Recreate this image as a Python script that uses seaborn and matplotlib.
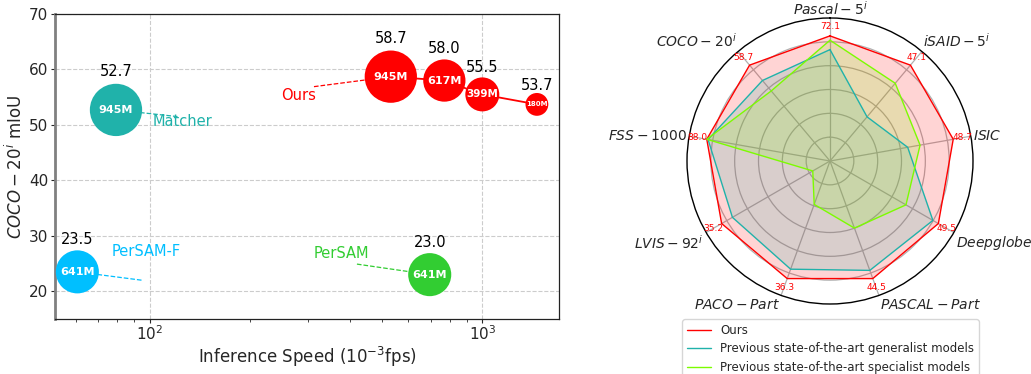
import numpy as np
import pandas as pd
import matplotlib
matplotlib.use("Agg")
import matplotlib.pyplot as plt
from matplotlib.lines import Line2D
import seaborn as sns

# ---------------- data: bubble chart ----------------
models = ["PerSAM-F", "Matcher", "PerSAM", "Ours", "Ours", "Ours", "Ours"]
speed = [60.7, 79.3, 695, 531, 769, 1000, 1459]          # 10^-3 fps
miou = [23.5, 52.7, 23.0, 58.7, 58.0, 55.5, 53.7]        # COCO-20i mIoU
params = [641, 945, 641, 945, 617, 399, 180]             # M
param_labels = ["641M", "945M", "641M", "945M", "617M", "399M", "180M"]

# ---------------- data: radar chart ----------------
radar_axes = [r"$Pascal-5^i$", r"$iSAID-5^i$", r"$ISIC$", r"$Deepglobe$",
              r"$PASCAL-Part$", r"$PACO-Part$", r"$LVIS-92^i$", r"$FSS-1000$",
              r"$COCO-20^i$"]
ours_vals = [72.1, 47.1, 48.7, 49.5, 44.5, 36.3, 35.2, 88.0, 58.7]
generalist_vals = [64.2, 21.7, 30.7, 47.0, 41.4, 33.4, 31.7, 87.1, 49.3]
specialist_vals = [69.6, 38.2, 35.6, 34.7, 25.4, 13.4, 5.6, 88.0, 42.9]
legend_labels = ["Ours", "Previous state-of-the-art generalist models",
                 "Previous state-of-the-art specialist models"]

# ---------------- style ----------------
sns.set_style("ticks")
plt.rcParams["font.family"] = ["DejaVu Sans"]
plt.rcParams["mathtext.fontset"] = "dejavusans"

colors = {"PerSAM-F": "#00BFFF", "Matcher": "#20B2AA", "PerSAM": "#32CD32", "Ours": "#FF0000"}

fig = plt.figure(figsize=(10.31, 3.74), dpi=100)
ax = fig.add_axes([55 / 1031, 55 / 374, 504 / 1031, 305 / 374])

df = pd.DataFrame({"model": models, "speed": speed, "miou": miou,
                   "params": params, "plabel": param_labels})
size_scale = 1.5
df["s"] = df["params"] * size_scale

# connecting line for Ours
sns.lineplot(data=df[df.model == "Ours"], x="speed", y="miou", color="red",
             lw=1.3, ax=ax, zorder=2, legend=False, sort=True)

sns.scatterplot(data=df, x="speed", y="miou", hue="model", palette=colors,
                s=df["s"].to_numpy(), linewidth=0, alpha=1,
                ax=ax, zorder=3, legend=False)

ax.set_xscale("log")
ax.set_xlim(52, 1700)
ax.set_ylim(15, 70)
ax.set_yticks([20, 30, 40, 50, 60, 70])
ax.grid(True, which="major", ls="--", color="#cccccc", lw=0.8)
ax.set_axisbelow(True)
ax.tick_params(labelsize=11, length=3, pad=2)
ax.tick_params(axis="x", pad=1)
ax.tick_params(which="minor", length=2)
ax.set_xlabel(r"Inference Speed ($10^{-3}$fps)", fontsize=12, labelpad=1)
ax.set_ylabel(r"$COCO-20^i$ mIoU", fontsize=12, labelpad=2)
for sp in ax.spines.values():
    sp.set_linewidth(0.9)
    sp.set_color("#222222")
ax.spines["left"].set_color("#808080")
ax.spines["left"].set_linewidth(2)

inner_fs = {945: 8, 641: 8, 617: 8, 399: 7.5, 180: 5}
for _, row in df.iterrows():
    r_px = 23 * np.sqrt(row.params / 945)
    off_pt = (1.5 * r_px + 4) * 0.72
    ax.annotate(row.plabel, (row.speed, row.miou), ha="center", va="center",
                color="white", fontweight="bold", fontsize=inner_fs[row.params], zorder=5)
    ax.annotate(f"{row.miou:.1f}", (row.speed, row.miou), xytext=(0, off_pt),
                textcoords="offset points", ha="center", va="center", fontsize=10.5,
                color="black", zorder=5)

# name labels with dashed leader lines (layout only)
name_layout = {
    "Ours": dict(text=(281, 55.25), line=(312, 56.9), anchor=(531, 58.7)),
    "Matcher": dict(text=(125.7, 50.6), line=(121.4, 51.5), anchor=(79.3, 52.7)),
    "PerSAM-F": dict(text=(97.9, 27.2), line=(94.6, 22.0), anchor=(60.7, 23.5)),
    "PerSAM": dict(text=(378, 26.8), line=(420, 24.9), anchor=(695, 23.0)),
}
for name, lay in name_layout.items():
    c = colors[name]
    ax.plot([lay["line"][0], lay["anchor"][0]], [lay["line"][1], lay["anchor"][1]],
            ls="--", color=c, lw=0.9, zorder=1)
    ax.text(lay["text"][0], lay["text"][1], name, color=c, fontsize=10.5,
            ha="center", va="center")

# ---------------- radar ----------------
rax = fig.add_axes([(830 - 143) / 1031, (374 - 304) / 374, 286 / 1031, 286 / 374], polar=True)
rax.set_theta_offset(np.pi / 2)
rax.set_theta_direction(-1)
n = len(radar_axes)
angles = np.arange(n) * 2 * np.pi / n
rmax = 1.2
scale = 1.05

def norm(vals):
    return [v / o * scale for v, o in zip(vals, ours_vals)]

series = [(ours_vals, "#FF0000"), (generalist_vals, "#20B2AA"), (specialist_vals, "#7CFC00")]
for vals, c in series:
    r = norm(vals)
    a = np.append(angles, angles[0])
    r = np.append(r, r[0])
    rax.plot(a, r, color=c, lw=1.0, zorder=3)
    rax.fill(a, r, color=c, alpha=0.17, zorder=2, lw=0)

rax.set_ylim(0, rmax)
rax.set_yticks([0.2, 0.4, 0.6, 0.8, 1.0])
rax.set_yticklabels([])
rax.set_xticks(angles)
rax.set_xticklabels([])
rax.grid(True, color="#b0b0b0", lw=0.9)
rax.spines["polar"].set_color("black")
rax.spines["polar"].set_linewidth(1.0)
rax.set_facecolor("white")

for ang, v in zip(angles, ours_vals):
    rax.text(ang, scale + 0.08, f"{v:.1f}", color="red", fontsize=6.5,
             ha="center", va="center", zorder=4)

for ang, lab in zip(angles, radar_axes):
    phi = np.pi / 2 - ang
    cx, sy = np.cos(phi), np.sin(phi)
    ha = "left" if cx > 0.1 else ("right" if cx < -0.1 else "center")
    va = "bottom" if sy > 0.3 else ("top" if sy < -0.3 else "center")
    pad = 0.005 if sy > 0.95 else 0.02
    rax.text(ang, rmax + pad, lab, fontsize=10, ha=ha, va=va)

handles = [Line2D([0], [0], color=c, lw=1.0) for _, c in series]
fig.legend(handles, legend_labels, loc="upper center", bbox_to_anchor=(830.5 / 1031, 0.146),
           fontsize=8.5, frameon=True, labelspacing=0.45, edgecolor="#cccccc",
           fancybox=True, borderaxespad=0)

fig.savefig("out.png", dpi=100)
